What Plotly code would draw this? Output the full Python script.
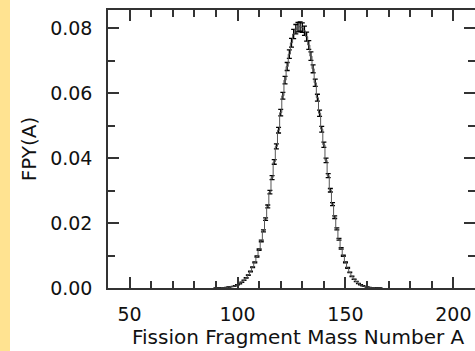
import plotly.graph_objects as go

# Mass numbers and fission product yields
mass_A = list(range(90, 167))
fpy = [
    0.0000, 0.0000, 0.0000, 0.0001, 0.0001, 0.0002, 0.0003, 0.0004, 0.0005, 0.0007,  # 90-99
    0.0010, 0.0013, 0.0018, 0.0024, 0.0031, 0.0040, 0.0051, 0.0064, 0.0079, 0.0097,  # 100-109
    0.0118, 0.0145, 0.0176, 0.0212, 0.0251, 0.0295, 0.0340, 0.0388, 0.0436, 0.0486,  # 110-119
    0.0540, 0.0592, 0.0640, 0.0682, 0.0720, 0.0755, 0.0782, 0.0797, 0.0803, 0.0805,  # 120-129
    0.0802, 0.0792, 0.0774, 0.0748, 0.0714, 0.0675, 0.0632, 0.0586, 0.0538, 0.0489,  # 130-139
    0.0441, 0.0393, 0.0346, 0.0301, 0.0258, 0.0218, 0.0182, 0.0150, 0.0122, 0.0099,  # 140-149
    0.0079, 0.0062, 0.0048, 0.0036, 0.0027, 0.0020, 0.0014, 0.0010, 0.0007, 0.0005,  # 150-159
    0.0003, 0.0002, 0.0001, 0.0001, 0.0000, 0.0000, 0.0000,                          # 160-166
]
x_tick_vals = [50, 100, 150, 200]
y_tick_vals = [0.00, 0.02, 0.04, 0.06, 0.08]
x_title = "Fission Fragment Mass Number A"
y_title = "FPY(A)"

FONT = "DejaVu Sans, Liberation Sans, Arial, sans-serif"
AX = "#333333"
L, R, T, B = 108, 0, 10, 63
W, H = 475, 351
PW, PH = W - L - R, H - T - B

fig = go.Figure()
fig.add_trace(go.Scatter(
    x=mass_A, y=fpy, mode="lines", line=dict(shape="hvh", color="#555555", width=1),
    error_y=dict(type="percent", value=1.8, color="black", thickness=1.3, width=2.5),
    showlegend=False, hoverinfo="skip", cliponaxis=False,
))
# invisible trace for mirrored axes
fig.add_trace(go.Scatter(x=[None], y=[None], xaxis="x2", yaxis="y2", showlegend=False))

xr = [40, 210]
yr = [0, 0.0856]
common_x = dict(range=xr, showgrid=False, zeroline=False, showline=True, linecolor=AX,
                linewidth=1.5, ticks="inside", ticklen=11, tickwidth=1.5, tickcolor=AX,
                minor=dict(ticks="inside", dtick=10, ticklen=7, tickwidth=1.5, tickcolor=AX))
common_y = dict(range=yr, showgrid=False, zeroline=False, showline=True, linecolor=AX,
                linewidth=1.5, ticks="inside", ticklen=11, tickwidth=1.5, tickcolor=AX,
                minor=dict(ticks="inside", dtick=0.01, ticklen=7, tickwidth=1.5, tickcolor=AX))

fig.update_layout(
    width=W, height=H, margin=dict(l=L, r=R, t=T, b=B, pad=0),
    paper_bgcolor="white", plot_bgcolor="white",
    font=dict(family=FONT, size=19, color="#111111"),
    xaxis=dict(**common_x, tickvals=x_tick_vals, ticklabelstandoff=8),
    yaxis=dict(**common_y, tickvals=y_tick_vals, tickformat=".2f", ticklabelstandoff=10,
               title=dict(text=y_title, standoff=8, font=dict(size=20))),
    xaxis2=dict(**common_x, tickvals=x_tick_vals, overlaying="x", side="top",
                showticklabels=False, anchor="y2"),
    yaxis2=dict(**common_y, tickvals=y_tick_vals, overlaying="y", side="right",
                showticklabels=False, anchor="x2"),
    shapes=[dict(type="rect", xref="paper", yref="paper",
                 x0=(0 - L) / PW, x1=(10 - L) / PW,
                 y0=-0.5, y1=1.5, fillcolor="#FFE391", line=dict(width=0), layer="below")],
    annotations=[dict(text=x_title, xref="paper", yref="paper",
                      x=(298 - L) / PW, y=-(337 - (T + PH)) / PH,
                      xanchor="center", yanchor="middle", showarrow=False,
                      font=dict(size=20))],
)

fig.write_html("out.html")
